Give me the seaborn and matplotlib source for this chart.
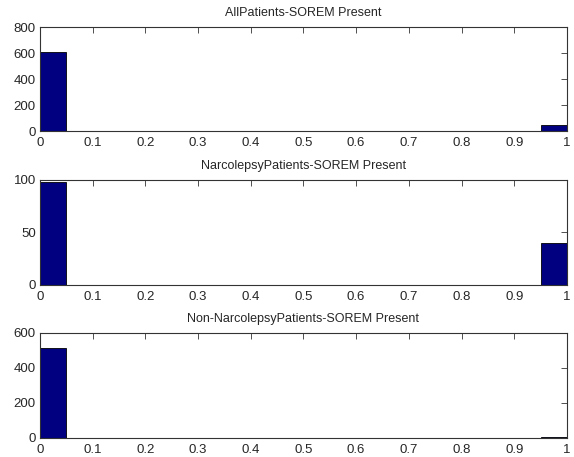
import numpy as np
import pandas as pd
import matplotlib
matplotlib.use("Agg")
import matplotlib.pyplot as plt
import seaborn as sns

sns.set_style("white")
plt.rcParams['font.family'] = ['Liberation Sans', 'DejaVu Sans']

# histogram bins (20 bins over 0..1) and counts
bin_edges = np.linspace(0, 1, 21)
bin_centers = (bin_edges[:-1] + bin_edges[1:]) / 2

all_counts = [610] + [0] * 18 + [45]
narco_counts = [98] + [0] * 18 + [40]
non_narco_counts = [512] + [0] * 18 + [5]

titles = ["AllPatients-SOREM Present",
          "NarcolepsyPatients-SOREM Present",
          "Non-NarcolepsyPatients-SOREM Present"]
y_ticks = [[0, 200, 400, 600, 800], [0, 50, 100], [0, 200, 400, 600]]
x_ticks = [0, 0.1, 0.2, 0.3, 0.4, 0.5, 0.6, 0.7, 0.8, 0.9, 1]
x_labels = ["0", "0.1", "0.2", "0.3", "0.4", "0.5", "0.6", "0.7", "0.8", "0.9", "1"]

fig = plt.figure(figsize=(5.74, 4.57), dpi=100)
positions = [
    [0.0697, 0.7133, 0.918, 0.2276],
    [0.0697, 0.3764, 0.918, 0.2298],
    [0.0697, 0.0416, 0.918, 0.2298],
]

for pos, counts, title, yt in zip(positions, [all_counts, narco_counts, non_narco_counts], titles, y_ticks):
    ax = fig.add_axes(pos)
    df = pd.DataFrame({"x": bin_centers, "count": counts})
    sns.histplot(data=df, x="x", weights="count", binwidth=0.05, binrange=(0, 1),
                 ax=ax, color="#000080", alpha=1, edgecolor="#000000", linewidth=0.6)
    ax.set_xlim(0, 1)
    ax.set_ylim(yt[0], yt[-1])
    ax.set_xticks(x_ticks)
    ax.set_xticklabels(x_labels)
    ax.set_yticks(yt)
    ax.set_xlabel("")
    ax.set_ylabel("")
    ax.set_title(title, fontsize=9, pad=8)
    ax.tick_params(direction="in", top=True, right=True, labelsize=9.5,
                   length=4, width=0.6, color="#333333")
    ax.tick_params(axis="x", pad=4)
    ax.tick_params(axis="y", pad=3)
    for s in ax.spines.values():
        s.set_visible(True)
        s.set_color("#333333")
        s.set_linewidth(0.8)

fig.savefig("out.png", dpi=100)
